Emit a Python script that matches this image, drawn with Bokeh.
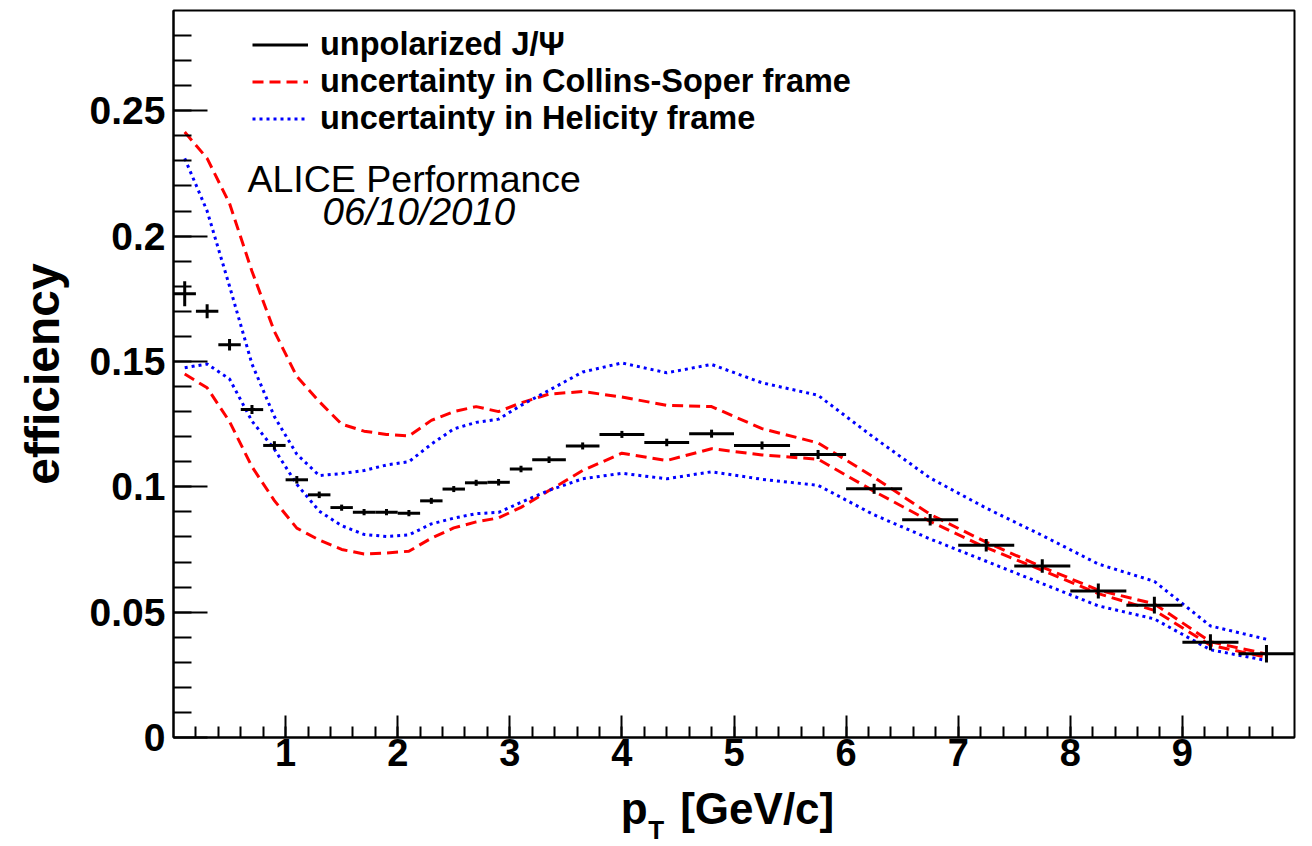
from bokeh.plotting import figure
from bokeh.layouts import column
from bokeh.models import FixedTicker, Range1d, Label, ColumnDataSource, Legend, LegendItem
from bokeh.embed import file_html
from bokeh.resources import INLINE

# ---- data ----
bin_edges = [0.0, 0.2, 0.4, 0.6, 0.8, 1.0, 1.2, 1.4, 1.6, 1.8, 2.0, 2.2, 2.4, 2.6, 2.8, 3.0,
             3.2, 3.5, 3.8, 4.2, 4.6, 5.0, 5.5, 6.0, 6.5, 7.0, 7.5, 8.0, 8.5, 9.0, 9.5, 10.0]

eff = [0.1770, 0.1700, 0.1567, 0.1308, 0.1165, 0.1028, 0.0968, 0.0917, 0.0899, 0.0899,
       0.0895, 0.0944, 0.0991, 0.1016, 0.1018, 0.1071, 0.1108, 0.1163, 0.1209, 0.1177,
       0.1212, 0.1165, 0.1129, 0.0992, 0.0869, 0.0767, 0.0684, 0.0584, 0.0528, 0.0380, 0.0334]
eff_err = [0.0050, 0.0028, 0.0023, 0.0018, 0.0017, 0.0015, 0.0013, 0.0012, 0.0012, 0.0012,
           0.0012, 0.0012, 0.0012, 0.0012, 0.0013, 0.0013, 0.0013, 0.0014, 0.0014, 0.0015,
           0.0016, 0.0016, 0.0018, 0.0020, 0.0023, 0.0025, 0.0027, 0.0030, 0.0033, 0.0032, 0.0035]

cs_hi = [0.2415, 0.2310, 0.2130, 0.1860, 0.1620, 0.1440, 0.1340, 0.1250, 0.1222, 0.1209,
         0.1203, 0.1265, 0.1300, 0.1320, 0.1300, 0.1335, 0.1370, 0.1380, 0.1358, 0.1325,
         0.1320, 0.1232, 0.1175, 0.1038, 0.0890, 0.0779, 0.0680, 0.0588, 0.0533, 0.0382, 0.0333]
cs_lo = [0.1450, 0.1395, 0.1260, 0.1080, 0.0945, 0.0835, 0.0788, 0.0750, 0.0732, 0.0736,
         0.0743, 0.0795, 0.0836, 0.0860, 0.0876, 0.0918, 0.0985, 0.1065, 0.1134, 0.1105,
         0.1152, 0.1127, 0.1110, 0.0982, 0.0862, 0.0757, 0.0667, 0.0574, 0.0507, 0.0368, 0.0320]
hx_hi = [0.2310, 0.2100, 0.1800, 0.1490, 0.1280, 0.1130, 0.1045, 0.1053, 0.1065, 0.1087,
         0.1100, 0.1170, 0.1231, 0.1257, 0.1270, 0.1325, 0.1385, 0.1458, 0.1494, 0.1455,
         0.1488, 0.1415, 0.1365, 0.1196, 0.1035, 0.0915, 0.0806, 0.0692, 0.0623, 0.0445, 0.0392]
hx_lo = [0.1475, 0.1490, 0.1430, 0.1262, 0.1150, 0.1010, 0.0903, 0.0845, 0.0810, 0.0802,
         0.0808, 0.0852, 0.0875, 0.0893, 0.0898, 0.0938, 0.0986, 0.1032, 0.1054, 0.1032,
         0.1060, 0.1030, 0.1006, 0.0888, 0.0792, 0.0703, 0.0614, 0.0525, 0.0473, 0.0350, 0.0307]

y_ticks = [0.0, 0.05, 0.1, 0.15, 0.2, 0.25]
y_tick_labels = ["0", "0.05", "0.1", "0.15", "0.2", "0.25"]
x_ticks = [1, 2, 3, 4, 5, 6, 7, 8, 9]

legend_labels = ["unpolarized J/\u03a8", "uncertainty in Collins-Soper frame",
                 "uncertainty in Helicity frame"]

# ---- derived ----
lo = bin_edges[:-1]
hi = bin_edges[1:]
xc = [(a + b) / 2 for a, b in zip(lo, hi)]

src = ColumnDataSource(dict(
    lo=lo, hi=hi, xc=xc, eff=eff,
    elo=[e - d for e, d in zip(eff, eff_err)],
    ehi=[e + d for e, d in zip(eff, eff_err)],
    cs_hi=cs_hi, cs_lo=cs_lo, hx_hi=hx_hi, hx_lo=hx_lo,
))

FONT = "Liberation Sans"
MAIN_H = 781
STRIP_H = 846 - MAIN_H

p = figure(width=1312, height=MAIN_H, output_backend="svg", toolbar_location=None,
           x_range=Range1d(0, 10), y_range=Range1d(0, 0.29),
           min_border_left=173, min_border_right=18, min_border_top=10, min_border_bottom=44)
p.grid.visible = False
p.outline_line_color = "black"
p.outline_line_width = 2
p.background_fill_color = "white"
p.border_fill_color = "white"

# axes
p.xaxis.ticker = FixedTicker(ticks=x_ticks,
                             minor_ticks=[round(0.2 * i, 1) for i in range(1, 50)])
p.yaxis.ticker = FixedTicker(ticks=y_ticks,
                             minor_ticks=[round(0.01 * i, 2) for i in range(1, 29)])
p.yaxis.major_label_overrides = {t: l for t, l in zip(y_ticks, y_tick_labels)}
for ax in (p.xaxis, p.yaxis):
    ax.axis_line_width = 2
    ax.major_tick_line_width = 2
    ax.minor_tick_line_width = 2
    ax.major_tick_out = 0
    ax.minor_tick_out = 0
    ax.major_label_text_font = FONT
    ax.major_label_text_font_style = "bold"
    ax.major_label_text_font_size = "38px"
    ax.major_label_text_color = "black"
p.yaxis.major_label_text_font_size = "39px"
p.xaxis.major_tick_in = 22
p.xaxis.minor_tick_in = 11
p.yaxis.major_tick_in = 34
p.yaxis.minor_tick_in = 18
p.xaxis.major_label_standoff = 1
p.yaxis.major_label_standoff = 8
p.yaxis.axis_label = "efficiency"
p.yaxis.axis_label_text_font = FONT
p.yaxis.axis_label_text_font_style = "bold"
p.yaxis.axis_label_text_font_size = "48px"
p.yaxis.axis_label_text_color = "black"
p.yaxis.axis_label_standoff = 18

# curves
r_cs = p.line("xc", "cs_hi", source=src, line_color="red", line_width=3, line_dash="11 6")
p.line("xc", "cs_lo", source=src, line_color="red", line_width=3, line_dash="11 6")
r_hx = p.line("xc", "hx_hi", source=src, line_color="blue", line_width=3, line_dash="3 4")
p.line("xc", "hx_lo", source=src, line_color="blue", line_width=3, line_dash="3 4")

# data points with error bars
r_eff = p.segment(x0="lo", y0="eff", x1="hi", y1="eff", source=src,
                  line_color="black", line_width=3)
p.segment(x0="xc", y0="elo", x1="xc", y1="ehi", source=src,
          line_color="black", line_width=3)

legend = Legend(items=[LegendItem(label=legend_labels[0], renderers=[r_eff]),
                       LegendItem(label=legend_labels[1], renderers=[r_cs]),
                       LegendItem(label=legend_labels[2], renderers=[r_hx])],
                location=(79, 600), margin=0, padding=0, spacing=0,
                glyph_width=56, glyph_height=37, label_height=37, label_standoff=12,
                border_line_color=None, background_fill_alpha=0,
                label_text_font=FONT, label_text_font_style="bold",
                label_text_font_size="32.5px", label_text_color="black")
p.add_layout(legend)

# annotations (bottom-anchored text)
p.add_layout(Label(x=0.66, y=0.2143, text="ALICE Performance", text_font=FONT,
                   text_font_size="37.5px", text_color="black"))
p.add_layout(Label(x=1.33, y=0.2011, text="06/10/2010", text_font=FONT,
                   text_font_style="italic", text_font_size="38.5px", text_color="black"))

# x-axis title strip (same horizontal frame as the main plot, y in pixels from its bottom)
t = figure(width=1312, height=STRIP_H, output_backend="svg", toolbar_location=None,
           x_range=p.x_range, y_range=Range1d(0, STRIP_H), x_axis_type=None, y_axis_type=None,
           min_border_left=173, min_border_right=18, min_border_top=0, min_border_bottom=0)
t.grid.visible = False
t.outline_line_color = None
t.background_fill_color = "white"
t.border_fill_color = "white"
t.add_layout(Label(x=3.99, y=14, text="p", text_font=FONT, text_font_style="bold",
                   text_font_size="44px", text_color="black"))
t.add_layout(Label(x=4.235, y=1.5, text="T", text_font=FONT, text_font_style="bold",
                   text_font_size="26px", text_color="black"))
t.add_layout(Label(x=4.52, y=14, text="[GeV/c]", text_font=FONT, text_font_style="bold",
                   text_font_size="44px", text_color="black"))

layout = column(p, t, spacing=0)
open("out.html", "w").write(file_html(layout, INLINE))
